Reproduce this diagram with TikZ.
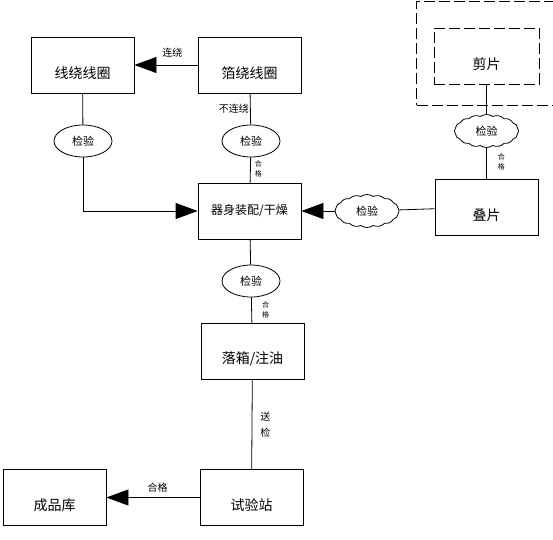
\documentclass[tikz,border=0pt]{standalone}
\usepackage{fontspec}
\newfontfamily\cjk{Noto Sans CJK SC}
\usetikzlibrary{arrows.meta,shapes.geometric,shapes.symbols,positioning}

\newcommand\low[1]{\raisebox{-8pt}[\height][\depth]{#1}}

\begin{document}
\begin{tikzpicture}[x=1pt,y=-1pt,line width=0.8pt,
    box/.style={draw,minimum width=103pt,minimum height=56pt,inner sep=0pt,
        font=\cjk\fontsize{14}{14}\selectfont},
    chk/.style={draw,ellipse,minimum width=58pt,minimum height=32pt,inner sep=0pt,
        font=\cjk\fontsize{11}{11}\selectfont},
    cld/.style={draw,cloud,cloud puffs=16,cloud puff arc=70,aspect=2,
        minimum width=64pt,minimum height=33pt,inner sep=0pt,
        font=\cjk\fontsize{11}{11}\selectfont},
    lbl/.style={font=\cjk\fontsize{10}{10}\selectfont,inner sep=0pt},
    tiny/.style={font=\cjk\fontsize{7}{8}\selectfont,inner sep=0pt,align=center},
    cut/.style={draw,dash pattern=on 11pt off 4pt},
    tip/.style={-{Triangle[length=22pt,width=16pt]}}]
    \useasboundingbox (0,0) rectangle (553,539);

    \node[box]  (a)  at (82.5,65)   {\low{线绕线圈}};
    \node[box]  (b)  at (249.5,65)  {\low{箔绕线圈}};
    \node[chk]  (k1) at (83,141)    {检验};
    \node[chk]  (k2) at (251,141)   {检验};
    \node[box,font=\cjk\fontsize{12}{12}\selectfont]
                (m)  at (249.5,211) {器身装配/干燥};
    \node[cut,minimum width=137pt,minimum height=104pt] (o) at (485,53) {};
    \node[cut,minimum width=105pt,minimum height=56pt,
          font=\cjk\fontsize{14}{14}\selectfont] (j) at (486.5,56) {\low{剪片}};
    \node[cld]  (k3) at (486.5,131) {检验};
    \node[box]  (d)  at (486.5,207) {\low{叠片}};
    \node[cld]  (k4) at (367,211)   {检验};
    \node[chk]  (k5) at (251,281)   {检验};
    \node[box]  (f)  at (252.5,351) {\low{落箱/注油}};
    \node[box]  (g)  at (251.5,497.5) {\low{试验站}};
    \node[box]  (h)  at (54.5,497.5)  {\low{成品库}};

    \draw[tip] (b) -- (a) node[lbl,pos=0.4,above=7pt] {连绕};
    \draw (a) -- (k1);
    \draw[tip] (k1) |- (m);
    \draw (b) -- (k2) node[lbl,pos=0.5,left=1pt] {不连绕};
    \draw (k2) -- (m) node[tiny,pos=0.45,right=4pt] {合\\[2pt]格};
    \draw (j) -- (k3);
    \draw (k3) -- (d) node[tiny,pos=0.45,right=11pt] {合\\[2pt]格};
    \draw (d) -- (k4);
    \draw[tip] (k4) -- (m);
    \draw (m) -- (k5);
    \draw (k5) -- (f) node[tiny,pos=0.5,right=10pt] {合\\[2pt]格};
    \draw (f) -- (g) node[lbl,align=center,pos=0.5,right=8pt] {送\\[6pt]检};
    \draw[tip] (g) -- (h) node[lbl,pos=0.45,above=5pt] {合格};
\end{tikzpicture}
\end{document}
